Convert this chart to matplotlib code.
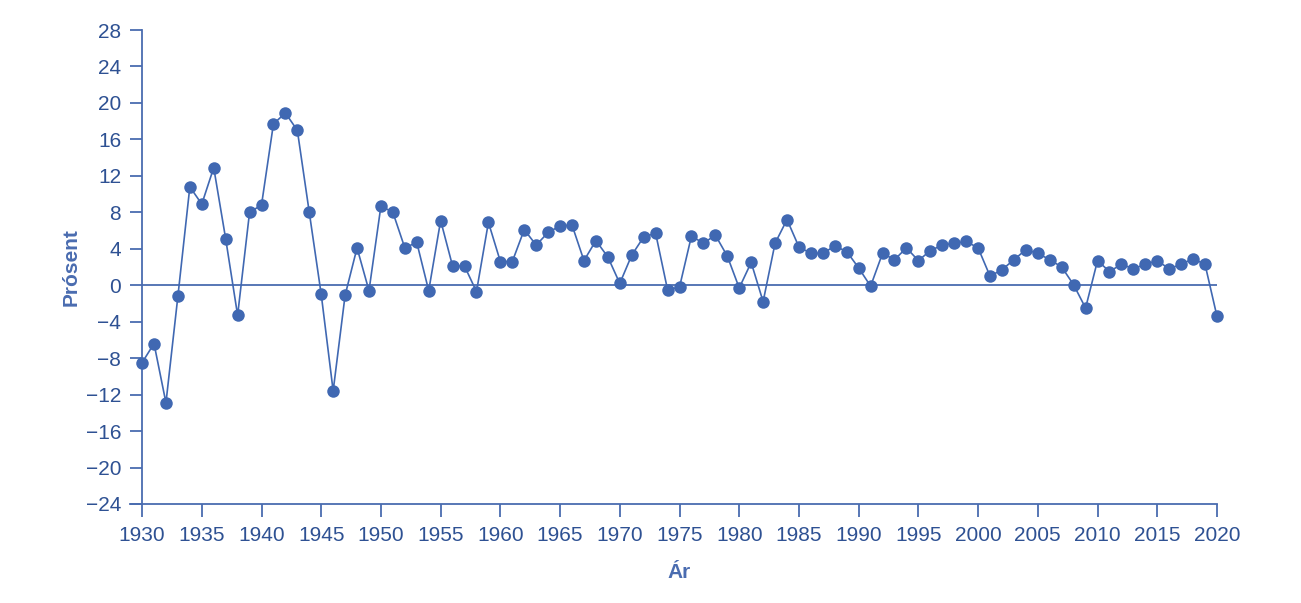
import matplotlib
matplotlib.use('Agg')
import matplotlib.pyplot as plt

years = list(range(1930, 2021))
values = [
    -8.5, -6.4, -12.9, -1.2, 10.8, 8.9, 12.9, 5.1, -3.3, 8.0,
    8.8, 17.7, 18.9, 17.0, 8.0, -1.0, -11.6, -1.1, 4.1, -0.6,
    8.7, 8.0, 4.1, 4.7, -0.6, 7.1, 2.1, 2.1, -0.7, 6.9,
    2.6, 2.6, 6.1, 4.4, 5.8, 6.5, 6.6, 2.7, 4.9, 3.1,
    0.2, 3.3, 5.3, 5.7, -0.5, -0.2, 5.4, 4.6, 5.5, 3.2,
    -0.3, 2.5, -1.8, 4.6, 7.2, 4.2, 3.5, 3.5, 4.3, 3.7,
    1.9, -0.1, 3.5, 2.8, 4.1, 2.7, 3.8, 4.4, 4.6, 4.8,
    4.1, 1.0, 1.7, 2.8, 3.9, 3.5, 2.8, 2.0, 0.05, -2.5,
    2.7, 1.5, 2.3, 1.8, 2.3, 2.7, 1.8, 2.3, 2.9, 2.3,
    -3.4,
]
xticks = list(range(1930, 2021, 5))
yticks = list(range(-24, 29, 4))

line_col = '#4068b2'
axis_col = '#4a6cb0'
text_col = '#2e5193'

plt.rcParams['font.family'] = ['Liberation Sans', 'DejaVu Sans']

fig = plt.figure(figsize=(13.01, 6.03), dpi=100)
ax = fig.add_axes([0.1092, 0.1642, 0.8262, 0.786])

ax.axhline(0, color=axis_col, lw=1.3, zorder=1)
ax.plot(years, values, color=line_col, lw=1.2, marker='o', markersize=9,
        markeredgewidth=0, zorder=3, clip_on=False)

ax.set_xlim(1930, 2020)
ax.set_ylim(-24, 28)
ax.set_xticks(xticks)
ax.set_yticks(yticks)
ax.set_yticklabels([str(t).replace('-', '\u2212') for t in yticks])

for s in ['top', 'right']:
    ax.spines[s].set_visible(False)
for s in ['left', 'bottom']:
    ax.spines[s].set_color(axis_col)
    ax.spines[s].set_linewidth(1.3)
ax.spines['bottom'].set_bounds(1929, 2020)

ax.tick_params(axis='both', colors=axis_col, length=9, width=1.3,
               labelsize=15, labelcolor=text_col)
ax.tick_params(axis='x', pad=7)
ax.tick_params(axis='y', pad=6)

ax.set_ylabel('Prósent', fontsize=15, fontweight='bold', color=axis_col, labelpad=4)
ax.set_xlabel('Ár', fontsize=15, fontweight='bold', color=axis_col, labelpad=13)

fig.savefig('out.png', dpi=100, facecolor='white')
plt.close()
